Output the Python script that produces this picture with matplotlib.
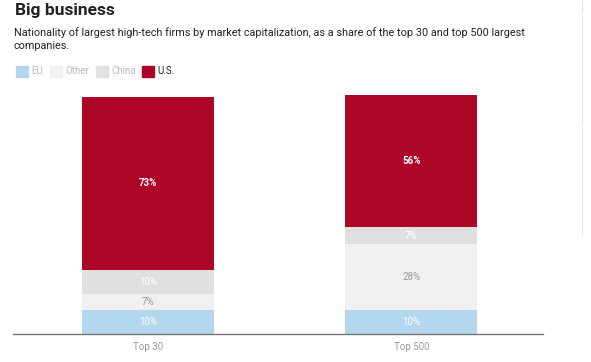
import matplotlib
matplotlib.use("Agg")
from matplotlib import pyplot as plt
from matplotlib.lines import Line2D
from matplotlib.patches import Rectangle

plt.rcParams['font.family'] = ['Roboto', 'DejaVu Sans']

# data
categories = ['Top 30', 'Top 500']
series = ['EU', 'Other', 'China', 'U.S.']
eu = [10, 10]
other = [7, 28]
china = [10, 7]
us = [73, 56]

colors = ['#b3d7ee', '#f0f0f0', '#e0e0e0', '#ad0626']
label_colors = ['white', '#999999', 'white', 'white']

fig = plt.figure(figsize=(5.91, 3.62), dpi=100)
ax = fig.add_axes([13 / 591, 28 / 362, 530 / 591, 239.4 / 362])

x = list(range(len(categories)))
bottom = [0, 0]
for name, vals, col, lcol in zip(series, [eu, other, china, us], colors, label_colors):
    bars = ax.bar(x, vals, width=0.5, bottom=bottom, color=col, label=name)
    for b, v, b0 in zip(bars, vals, bottom):
        ax.text(b.get_x() + b.get_width() / 2, b0 + v / 2, f'{v}%',
                ha='center', va='center', fontsize=7, color=lcol,
                fontweight='bold' if name == 'U.S.' else 'normal')
    bottom = [b0 + v for b0, v in zip(bottom, vals)]

ax.set_xlim(-0.512, 1.5)
ax.set_ylim(0, 101)
ax.set_yticks([])
ax.set_xticks(x)
ax.set_xticklabels(categories, fontsize=7, color='#999999')
ax.tick_params(axis='x', length=0, pad=6)
for s in ['top', 'right', 'left']:
    ax.spines[s].set_visible(False)
ax.spines['bottom'].set_color('#777777')
ax.spines['bottom'].set_linewidth(1)

fig.text(15 / 591, 1 - 11 / 362, 'Big business', fontsize=12.5, fontweight='bold',
         va='center', ha='left', color='#222222')
fig.text(14 / 591, 1 - 27.5 / 362,
         'Nationality of largest high-tech firms by market capitalization, as a share of the top 30 and top 500 largest\ncompanies.',
         fontsize=7.8, va='top', ha='left', color='#222222', linespacing=1.35)

# legend
lx = [16, 50, 96, 142]
for px, name, col in zip(lx, series, colors):
    fig.patches.append(Rectangle((px / 591, 1 - 77 / 362), 12 / 591, 11 / 362,
                                 transform=fig.transFigure, color=col))
    fig.text((px + 15) / 591, 1 - 71.5 / 362, name, fontsize=7, va='center',
             color='#222222' if name == 'U.S.' else '#bbbbbb')

# page borders at the right edge
for y0, y1 in [(0, 12), (17, 125), (128, 235)]:
    fig.lines.append(Line2D([582 / 591, 582 / 591], [1 - y0 / 362, 1 - y1 / 362],
                            transform=fig.transFigure, color='#e6e6e6', lw=0.8))

fig.savefig('out.png', dpi=100)
